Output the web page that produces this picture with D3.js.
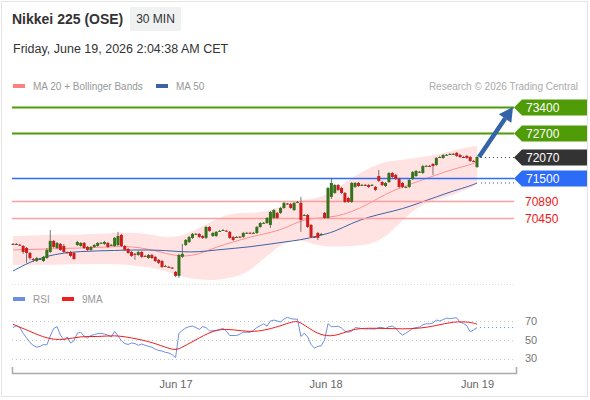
<!DOCTYPE html>
<html>
<head>
<meta charset="utf-8">
<script src="https://cdn.jsdelivr.net/npm/d3@7"></script>
<style>
  body { margin: 0; background: #fff; }
  svg { font-family: "Liberation Sans", Arial, sans-serif; display: block; }
</style>
</head>
<body>
<div class="chart"></div>
<script>
const width = 590, height = 400;

// 30 min candles, Jun 16 -> Jun 19
const opens = [69760,69755,69740,69705,69650,69520,69360,69305,69350,69305,69385,69545,69840,69650,69760,69705,69545,69545,69520,69730,69705,69785,69680,69600,69680,69705,69785,69760,69785,69720,69705,69730,70000,69705,69625,69545,69495,69465,69545,69440,69385,69465,69415,69335,69305,69160,69150,69130,69015,68910,69415,69730,69810,69920,70025,70025,69970,69920,70210,69970,69970,70095,70120,70110,70080,69945,69935,69950,69945,70050,70055,70050,70050,70210,70315,70315,70265,70450,70585,70585,70715,70835,70820,70660,70865,70850,70520,70530,70265,69950,70050,70010,70585,70450,71010,71115,71325,71245,71115,70980,70875,71275,71380,71320,71330,71325,71320,71275,71565,71405,71300,71405,71645,71595,71485,71380,71270,71275,71485,71565,71670,71645,71830,71835,71885,71860,72065,72045,72125,72145,72150,72180,72125,72070,72100,72070,71965,71805];
const highs = [69785,69785,69760,69730,69680,69545,69385,69415,69385,69440,69650,70130,69865,69810,69785,69760,69560,69575,69545,69840,69810,69810,69705,69705,69760,69810,69810,69840,69810,69760,69945,70080,70025,69730,69650,69575,69520,69575,69575,69465,69495,69495,69440,69360,69335,69200,69175,69145,69040,69495,69760,69890,69970,70050,70050,70050,69995,70235,70235,70080,70105,70130,70155,70130,70105,69970,69970,69970,70080,70080,70080,70080,70235,70345,70345,70475,70635,70690,70610,70740,70875,70850,70850,70875,70900,71010,70555,70555,70290,69970,70080,70050,70610,71275,71515,71355,71355,71275,71140,71010,71405,71405,71405,71355,71355,71355,71355,71300,71725,71435,71405,71670,71670,71620,71515,71405,71300,71485,71700,71725,71700,71860,71860,71860,71910,72070,72100,72150,72150,72180,72180,72205,72150,72100,72125,72100,71990,72100];
const lows = [69730,69735,69705,69495,69255,69335,69280,69280,69335,69280,69360,69520,69650,69625,69575,69520,69495,69415,69335,69705,69680,69625,69575,69575,69655,69680,69760,69735,69650,69705,69680,69705,69680,69575,69495,69415,69335,69440,69385,69415,69360,69360,69280,69225,69120,69145,69120,69095,68880,68855,69385,69705,69785,69890,70000,69920,69890,69890,70080,69945,69945,70080,70105,70080,69890,69840,69920,69920,69920,70025,70025,70025,70025,70185,70290,70290,70185,70425,70425,70555,70690,70795,70690,70635,70850,70080,70505,70185,69920,69920,69865,69995,70425,70425,70955,71090,71165,71090,70850,70850,70850,71245,71275,71300,71300,71245,71300,71165,71405,71300,71275,71380,71515,71460,71245,71245,71245,71245,71460,71540,71645,71620,71805,71805,71595,71830,72045,72020,72100,72125,72125,72070,72045,72045,72020,71940,71940,71780];
const closes = [69755,69760,69730,69545,69520,69385,69335,69385,69360,69415,69600,69840,69680,69785,69600,69545,69520,69440,69360,69810,69785,69650,69600,69680,69730,69785,69790,69810,69680,69735,69920,69970,69705,69600,69520,69440,69480,69545,69415,69430,69465,69385,69305,69255,69145,69175,69145,69120,68910,69465,69495,69865,69945,70025,70030,69945,69920,70210,70105,70050,70080,70105,70130,70105,69920,69865,69945,69945,70050,70055,70050,70055,70210,70315,70320,70450,70610,70660,70450,70715,70850,70820,70715,70850,70875,70395,70530,70210,69945,69945,69920,70025,70450,71245,71380,71325,71195,71115,70875,70875,71380,71380,71300,71330,71325,71275,71330,71195,71435,71325,71380,71645,71540,71485,71275,71275,71275,71460,71670,71700,71680,71830,71835,71830,71830,72045,72070,72125,72130,72150,72155,72100,72070,72065,72045,71965,71960,72070];

// indicator lines, read every 5 candles
const maIdx = [0,5,10,15,20,25,30,35,40,45,50,55,60,65,70,75,80,85,90,95,100,105,110,115,120,125,130,135,137];
const ma20 = [69600,69610,69625,69640,69650,69665,69690,69690,69625,69505,69415,69480,69680,69810,69945,70040,70155,70395,70450,70475,70610,70820,71090,71275,71435,71595,71750,71860,71940];
const bbUpper = [69970,69985,70000,70000,70010,70025,70050,70065,70025,69920,69970,70185,70425,70585,70585,70610,70795,70930,70955,71195,71515,71780,71965,71990,72070,72125,72255,72335,72365];
const bbLower = [69200,69200,69200,69215,69215,69225,69225,69200,69145,69040,68880,68800,68800,68855,69040,69440,69810,69890,69705,69680,69705,69730,69920,70395,70795,70930,71060,71245,71355];
const ma50 = [69040,69280,69440,69520,69560,69575,69585,69600,69600,69585,69545,69545,69600,69640,69680,69745,69810,69865,69970,70080,70315,70475,70585,70690,70850,71010,71170,71300,71380];

// key levels
const levels = [73400, 72700, 72070, 71500, 70890, 70450];
const levelKinds = ["res", "res", "last", "pivot", "sup", "sup"];
const target = 73400;

// RSI(14) per candle and its 9 period MA
const rsi = [63,65,63,57,52,47,44,42,43,45,44.5,54,62,64,55,50,53,46.5,49,57,58,54,52,54.5,55.5,56.5,57,56,55,53,59,54,49,46,45,46.5,46,44,45.5,44,43,42,40,38.5,38,36.5,36,34,31,57,60,62.5,64,64.5,63,61,64,63,59.5,59.5,60,61,62,59,54.5,54.5,54.5,56,58,58,58,60,63,65,67,64.5,70,71,70,69,72,74,72.5,72,72,53.5,57,53,45,41,43,43.5,50,67,64,64,64.5,62.5,59,58,59,63,62.5,62,61.5,61.5,61.5,61.5,63,63,62,64,64.5,62.5,58,55,57,59.5,62,63,63.5,66,67,67,68,71,70,71.5,73,72.5,73,73.5,68.5,67.5,65,58.5,60.5,63];
const rsiMaIdx = [0,5,10,15,20,25,30,35,40,45,48,50,55,60,65,70,75,80,83,85,90,95,100,105,110,115,120,125,130,135,137];
const rsiMa = [66.5,59,51,49.5,54,53,55,52,48.5,42,38.5,42,52,61.5,61,58,60.5,66,70,69,55,53,61.5,62.5,62,61.5,62,65,69.5,69,66.5];
const rsiTicks = [70, 50, 30];

const dayTicks = [48, 92.3, 137];
const dayLabels = ["Jun 17", "Jun 18", "Jun 19"];

const colors = {
    up: "#357219", down: "#cf1b1b", wick: "#555",
    band: "#ffe3e3", ma20: "#ff8f8f", ma50: "#3d62a8",
    res: "#4f9b08", pivot: "#2c6cf6", last: "#333", sup: "#ff9f9f",
    rsi: "#6d8fe0", rsiMa: "#f21d1d", grid: "#c8c8c8", text: "#999"
};

function init() {
    const svg = d3.select(".chart")
        .append("svg")
        .attr("width", width)
        .attr("height", height);

    drawHeader(svg);
    drawPrice(svg);
    drawRsi(svg);
}

function drawHeader(svg) {
    svg.append("rect")
        .attr("x", 1.5).attr("y", 1.5)
        .attr("width", width - 4).attr("height", height - 5)
        .attr("fill", "none").attr("stroke", "#e4e4e4");

    svg.append("text")
        .attr("x", 12).attr("y", 24)
        .style("font-size", "14px").style("font-weight", "bold")
        .attr("fill", "#333")
        .text("Nikkei 225 (OSE)");

    svg.append("rect")
        .attr("x", 130).attr("y", 7).attr("width", 51).attr("height", 24)
        .attr("fill", "#f0f1f1");
    svg.append("text")
        .attr("x", 155.5).attr("y", 23)
        .attr("text-anchor", "middle")
        .style("font-size", "12px").attr("fill", "#333")
        .text("30 MIN");

    svg.append("text")
        .attr("x", 13).attr("y", 53)
        .style("font-size", "12.5px").attr("fill", "#333")
        .text("Friday, June 19, 2026 2:04:38 AM CET");

    // legend
    const legend = [{label: "MA 20 + Bollinger Bands", color: "#ff8080", x: 13},
                    {label: "MA 50", color: colors.ma50, x: 156}];
    legend.forEach(d => {
        svg.append("rect").attr("x", d.x).attr("y", 84).attr("width", 12).attr("height", 4).attr("fill", d.color);
        svg.append("text").attr("x", d.x + 20).attr("y", 90)
            .style("font-size", "10px").attr("fill", colors.text).text(d.label);
    });

    svg.append("text")
        .attr("x", 578).attr("y", 90)
        .attr("text-anchor", "end")
        .style("font-size", "10px").attr("fill", "#aaa")
        .text("Research \u00a9 2026 Trading Central");
}

function drawPrice(svg) {
    const x = d3.scaleLinear().domain([0, closes.length - 1]).range([13, 477]);
    const y = d3.scaleLinear().domain([68800, 73400]).range([280, 107]);
    const last = closes.length - 1;
    const g = svg.append("g");

    // bollinger band
    const band = d3.area()
        .x((d, i) => x(maIdx[i]))
        .y0((d, i) => y(bbLower[i]))
        .y1(d => y(d))
        .curve(d3.curveBasis);
    g.append("path").datum(bbUpper)
        .attr("d", band).attr("fill", colors.band);

    const line = d3.line()
        .x((d, i) => x(maIdx[i]))
        .y(d => y(d))
        .curve(d3.curveBasis);
    g.append("path").datum(ma20)
        .attr("d", line).attr("fill", "none").attr("stroke", colors.ma20).attr("stroke-width", 1);
    g.append("path").datum(ma50)
        .attr("d", line).attr("fill", "none").attr("stroke", colors.ma50).attr("stroke-width", 1);

    // ma50 dotted extension
    g.append("line")
        .attr("x1", x(last) + 4).attr("x2", 514)
        .attr("y1", y(ma50[ma50.length - 1])).attr("y2", y(ma50[ma50.length - 1]))
        .attr("stroke", colors.ma50).attr("stroke-dasharray", "1,3");

    // separator under the price panel
    g.append("line")
        .attr("x1", 12).attr("x2", 516).attr("y1", 284.5).attr("y2", 284.5)
        .attr("stroke", "#ddd").attr("stroke-dasharray", "1,2");

    // level lines
    levels.forEach((lv, i) => {
        const kind = levelKinds[i];
        const ly = Math.round(y(lv)) + 0.5;
        if (kind === "last") {
            g.append("line")
                .attr("x1", x(last) + 4).attr("x2", 514).attr("y1", ly).attr("y2", ly)
                .attr("stroke", "#444").attr("stroke-dasharray", "1,3");
        } else {
            g.append("line")
                .attr("x1", 12).attr("x2", 514).attr("y1", ly).attr("y2", ly)
                .attr("stroke", colors[kind])
                .attr("stroke-width", kind === "res" ? 2 : 1.5);
        }
        if (kind === "sup") {
            g.append("text")
                .attr("x", 525).attr("y", ly).attr("dy", "0.36em")
                .style("font-size", "12px").attr("fill", "#f01818")
                .text(lv);
        } else {
            g.append("path")
                .attr("d", `M514,${ly} L522,${ly - 8} L587,${ly - 8} L587,${ly + 8} L522,${ly + 8} Z`)
                .attr("fill", colors[kind]);
            g.append("text")
                .attr("x", 526).attr("y", ly).attr("dy", "0.36em")
                .style("font-size", "12px").attr("fill", "#fff")
                .text(lv);
        }
    });

    // candles
    const candles = g.selectAll(".candle")
        .data(closes)
        .enter().append("g")
        .attr("class", "candle");
    candles.append("line")
        .attr("x1", (d, i) => x(i)).attr("x2", (d, i) => x(i))
        .attr("y1", (d, i) => y(highs[i])).attr("y2", (d, i) => y(lows[i]))
        .attr("stroke", colors.wick).attr("stroke-width", 0.8);
    candles.append("rect")
        .attr("x", (d, i) => x(i) - 1.5)
        .attr("width", 3)
        .attr("y", (d, i) => y(Math.max(opens[i], d)))
        .attr("height", (d, i) => Math.max(1, Math.abs(y(opens[i]) - y(d))))
        .attr("fill", (d, i) => d >= opens[i] ? colors.up : colors.down);

    // projection arrow
    const x0 = x(last) + 2, y0 = y(closes[last]);
    const tx = 513, ty = y(target);
    const len = Math.hypot(tx - x0, ty - y0);
    const ux = (tx - x0) / len, uy = (ty - y0) / len;
    const bx = tx - ux * 14, by = ty - uy * 14;
    g.append("line")
        .attr("x1", x0).attr("y1", y0).attr("x2", bx).attr("y2", by)
        .attr("stroke", "#3463a8").attr("stroke-width", 4.5);
    g.append("path")
        .attr("d", `M${tx},${ty} L${bx - uy * 7.5},${by + ux * 7.5} L${bx + uy * 7.5},${by - ux * 7.5} Z`)
        .attr("fill", "#3463a8");
}

function drawRsi(svg) {
    const x = d3.scaleLinear().domain([0, rsi.length - 1]).range([13, 477]);
    const y = d3.scaleLinear().domain([30, 70]).range([358.5, 321]);
    const g = svg.append("g");

    const legend = [{label: "RSI", color: colors.rsi, x: 13},
                    {label: "9MA", color: colors.rsiMa, x: 62}];
    legend.forEach(d => {
        g.append("rect").attr("x", d.x).attr("y", 297).attr("width", 12).attr("height", 4).attr("fill", d.color);
        g.append("text").attr("x", d.x + 20).attr("y", 303)
            .style("font-size", "10px").attr("fill", colors.text).text(d.label);
    });

    rsiTicks.forEach(t => {
        g.append("line")
            .attr("x1", 12).attr("x2", 516)
            .attr("y1", Math.round(y(t)) + 0.5).attr("y2", Math.round(y(t)) + 0.5)
            .attr("stroke", colors.grid).attr("stroke-dasharray", "1,3");
        g.append("text")
            .attr("x", 525).attr("y", y(t)).attr("dy", "0.36em")
            .style("font-size", "11px").attr("fill", "#777").text(t);
    });

    g.append("path").datum(rsi)
        .attr("d", d3.line().x((d, i) => x(i)).y(d => y(d)))
        .attr("fill", "none").attr("stroke", colors.rsi).attr("stroke-width", 1);
    g.append("line")
        .attr("x1", x(rsi.length - 1) + 3).attr("x2", 514)
        .attr("y1", y(rsi[rsi.length - 1])).attr("y2", y(rsi[rsi.length - 1]))
        .attr("stroke", colors.rsi).attr("stroke-dasharray", "1,3");

    g.append("path").datum(rsiMa)
        .attr("d", d3.line().x((d, i) => x(rsiMaIdx[i])).y(d => y(d)).curve(d3.curveBasis))
        .attr("fill", "none").attr("stroke", colors.rsiMa).attr("stroke-width", 1);

    // time axis
    const xAxis = d3.axisBottom(d3.scaleLinear().domain([x.invert(12), x.invert(516)]).range([12, 516]))
        .tickValues(dayTicks)
        .tickFormat((d, i) => dayLabels[i])
        .tickSizeInner(0)
        .tickSizeOuter(-6)
        .tickPadding(7);
    const axis = g.append("g")
        .attr("transform", "translate(0,373)")
        .call(xAxis);
    axis.select(".domain").attr("stroke", "#aaa").attr("stroke-width", 1.5);
    axis.selectAll("text")
        .style("font-family", "Liberation Sans, Arial, sans-serif")
        .style("font-size", "11px").attr("fill", "#666");
}

init();
</script>
</body>
</html>
